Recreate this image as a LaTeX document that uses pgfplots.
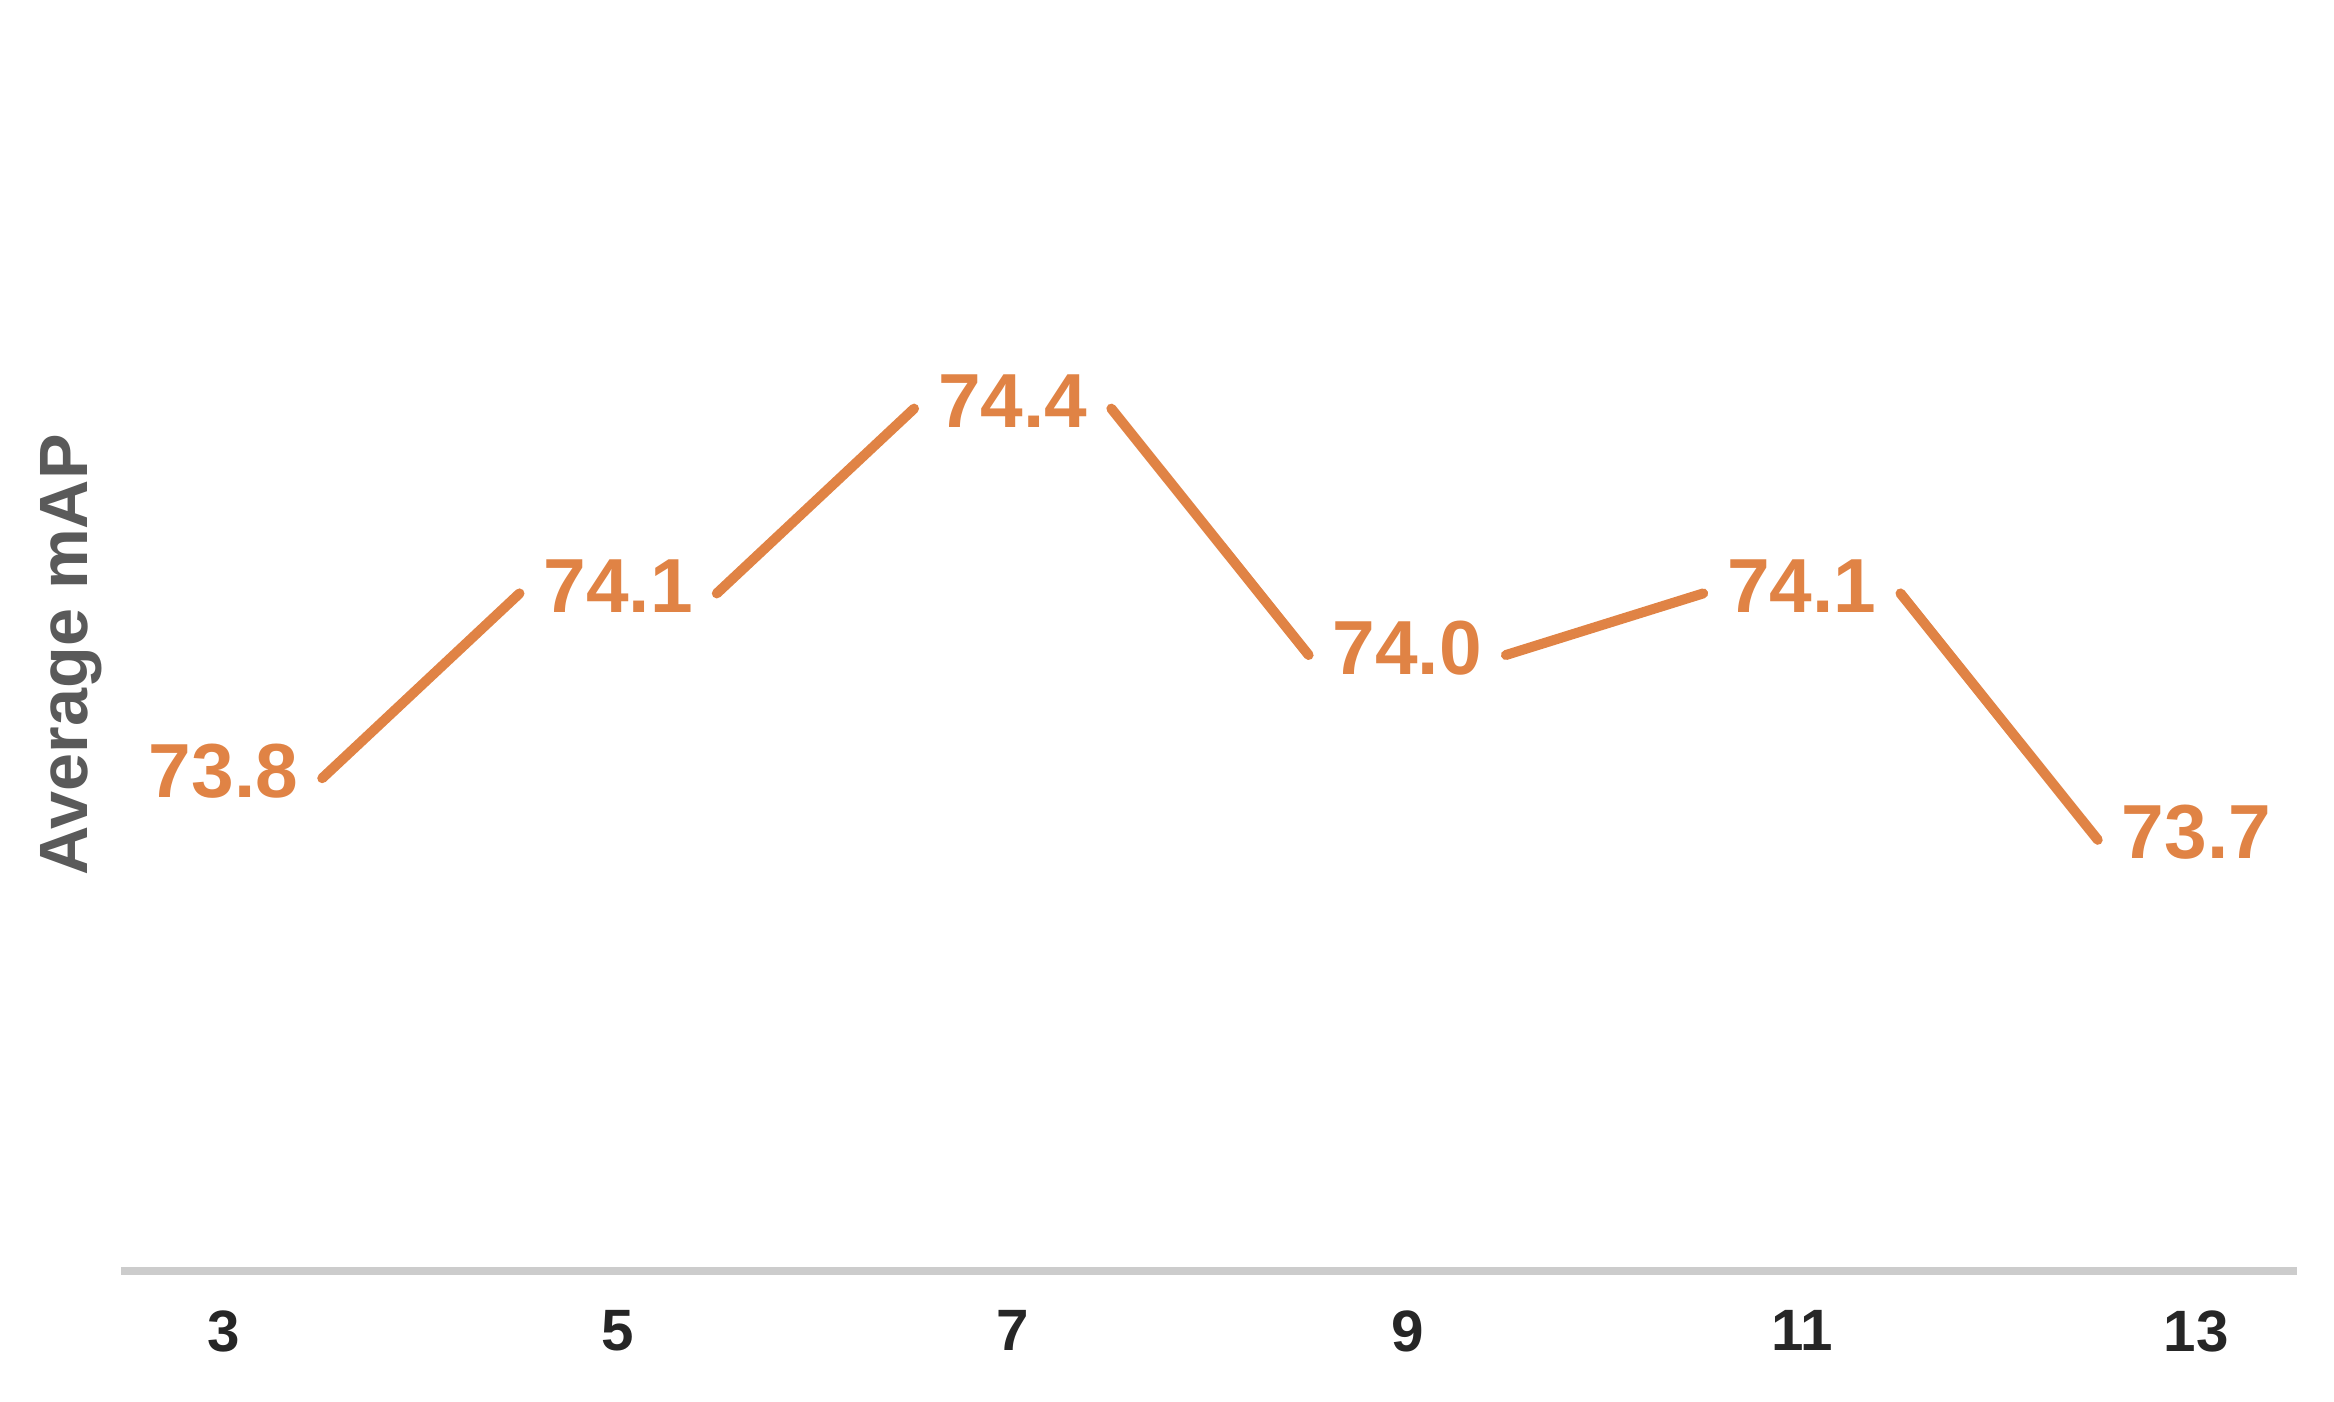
\documentclass[border=0pt]{standalone}
\usepackage{pgfplots}
\pgfplotsset{compat=1.18}
\usepackage{fontspec}
\setmainfont{Liberation Sans}

\definecolor{lineorange}{HTML}{E08345}
\definecolor{axisgray}{HTML}{CCCCCC}
\definecolor{ticktext}{HTML}{262626}
\definecolor{labelgray}{HTML}{5A5A5A}

\begin{document}
\begin{tikzpicture}
\begin{axis}[
    scale only axis,
    width=652.8pt, height=369.6pt,
    xmin=2.48, xmax=13.51,
    ymin=73, ymax=75,
    clip=false,
    axis x line*=bottom,
    axis y line*=left,
    x axis line style={draw=axisgray, line width=2.4pt},
    y axis line style={draw=none},
    xtick={3,5,7,9,11,13},
    xticklabels={3,5,7,9,11,13},
    xtick style={draw=none},
    ytick=\empty,
    xticklabel style={font=\fontsize{17.5}{20}\selectfont\bfseries, text=ticktext,
        inner sep=0pt, anchor=north, yshift=-11.7pt},
    ylabel={Average mAP},
    every axis y label/.style={at={(rel axis cs:0,0.5)}, xshift=-9.9pt, rotate=90,
        anchor=base, inner sep=0pt, font=\fontsize{20.5}{24}\selectfont\bfseries, text=labelgray},
    seg/.style={draw=lineorange, line width=3pt, line cap=round, mark=none},
]
% invisible frame so the page has the reference's margins
\path (rel axis cs:-0.0556,-0.1055) rectangle (rel axis cs:1.017,1.0317);

% broken line segments between the value labels
\addplot[seg] coordinates {(3.5,73.8) (4.5,74.1)};
\addplot[seg] coordinates {(5.5,74.1) (6.5,74.4)};
\addplot[seg] coordinates {(7.5,74.4) (8.5,74.0)};
\addplot[seg] coordinates {(9.5,74.0) (10.5,74.1)};
\addplot[seg] coordinates {(11.5,74.1) (12.5,73.7)};

% value labels at each point
\addplot[draw=none, mark=none, nodes near coords, point meta=explicit symbolic,
    nodes near coords style={anchor=center, yshift=2.2pt, inner sep=0pt,
        font=\fontsize{23}{27}\selectfont\bfseries, text=lineorange}]
    coordinates {
    (3,73.8) [73.8]
    (5,74.1) [74.1]
    (7,74.4) [74.4]
    (9,74.0) [74.0]
    (11,74.1) [74.1]
    (13,73.7) [73.7]
};
\end{axis}
\end{tikzpicture}
\end{document}
